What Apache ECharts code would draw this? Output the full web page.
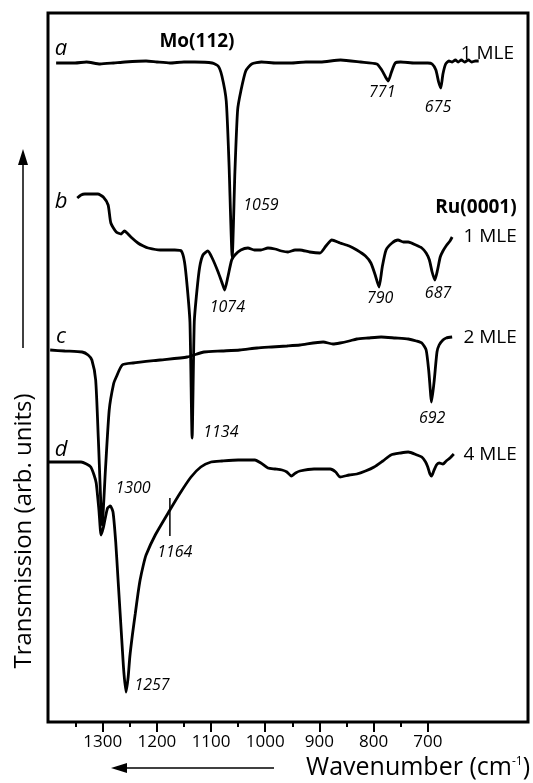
<!DOCTYPE html>
<html>
<head>
<meta charset="utf-8">
<script src="https://cdn.jsdelivr.net/npm/echarts@6/dist/echarts.min.js"></script>
<style>
  html, body { margin: 0; padding: 0; background: #fff; }
  #chart { width: 533px; height: 783px; }
</style>
</head>
<body>
<div id="chart"></div>
<script>
// wavenumber (cm-1), transmission (arb. units)
var curveA = [
  [1386, 659], [1351, 659], [1330, 660], [1305, 658], [1280, 659], [1259, 660], [1220, 661],
  [1200, 660], [1176, 659], [1150, 660], [1130, 660], [1098, 659], [1087, 656], [1080, 646],
  [1072, 621], [1067, 560], [1061, 465], [1056, 550], [1051, 612], [1045, 631],
  [1036, 651], [1025, 658], [1007, 660], [980, 659], [953, 659], [925, 660], [898, 660],
  [861, 662], [824, 660], [794, 658], [785, 652], [778, 645], [773, 641], [767, 650],
  [760, 659], [750, 660], [724, 659], [700, 659], [692, 658], [685, 652], [680, 640],
  [676, 634], [672, 648], [667, 658], [661, 661], [655, 660], [649, 662], [644, 660],
  [638, 662], [632, 660], [625, 662], [619, 660], [612, 661], [606, 661]
];
var curveB = [
  [1347, 524], [1340, 527], [1333, 528], [1309, 528], [1299, 525], [1290, 517], [1285, 499],
  [1275, 490], [1266, 488], [1260, 491], [1255, 489], [1248, 485], [1235, 479], [1225, 476],
  [1216, 474], [1194, 472], [1167, 472], [1155, 471], [1149, 460], [1144, 435], [1139, 400],
  [1135, 284], [1131, 400], [1126, 432], [1121, 455], [1115, 467], [1106, 471], [1098, 464],
  [1087, 450], [1079, 438], [1075, 432], [1069, 445], [1062, 462], [1056, 467], [1045, 472],
  [1032, 474], [1020, 472], [1008, 472], [995, 474], [982, 473], [970, 471], [958, 470],
  [945, 472], [936, 472], [918, 470], [899, 469], [888, 476], [877, 482], [862, 479],
  [845, 476], [831, 472], [815, 466], [805, 459], [797, 447], [790, 435], [784, 455],
  [777, 472], [766, 479], [755, 482], [745, 480], [736, 480], [722, 477], [711, 474],
  [703, 469], [697, 462], [692, 450], [687, 442], [682, 452], [677, 465], [672, 471],
  [665, 477], [659, 481], [655, 485]
];
var curveC = [
  [1397, 372], [1370, 371], [1338, 370], [1327, 367], [1320, 362], [1313, 342], [1308, 282],
  [1301, 197], [1295, 252], [1288, 312], [1280, 338], [1275, 345], [1264, 357], [1244, 359],
  [1194, 362], [1144, 365], [1113, 370], [1080, 371], [1047, 372], [1015, 374], [988, 375],
  [960, 376], [936, 377], [893, 380], [875, 378], [862, 379], [845, 381], [831, 383],
  [810, 384], [786, 385], [760, 384], [736, 383], [721, 381], [711, 379], [703, 372],
  [698, 350], [693, 320], [688, 342], [683, 370], [679, 377], [672, 382], [666, 384], [655, 385]
];
var curveD = [
  [1401, 260], [1370, 260], [1340, 260], [1330, 258], [1322, 255], [1316, 247], [1312, 239],
  [1307, 212], [1303, 187], [1299, 194], [1296, 202], [1291, 214], [1286, 216], [1281, 210],
  [1276, 180], [1272, 145], [1268, 110], [1264, 75], [1261, 50], [1257, 30], [1253, 45],
  [1250, 65], [1245, 88], [1240, 108], [1235, 128], [1231, 142], [1225, 157], [1220, 167],
  [1203, 187], [1176, 212], [1157, 229], [1137, 245], [1119, 255], [1100, 260], [1080, 261],
  [1050, 262], [1019, 262], [1008, 259], [995, 254], [982, 253], [969, 252], [960, 250],
  [952, 246], [944, 249], [936, 251], [910, 253], [880, 253], [870, 250], [862, 245],
  [845, 247], [831, 248], [815, 251], [799, 255], [783, 261], [768, 267], [750, 269],
  [736, 270], [720, 267], [711, 265], [704, 260], [700, 255], [696, 248], [693, 246],
  [689, 251], [684, 257], [679, 259], [672, 258], [666, 261], [659, 264], [652, 268]
];
var marker1164 = [[1176, 224], [1176, 186]];

// annotation texts placed at [wavenumber, transmission, text]
var peakLabels = [
  [784, 630, '771'], [681, 615, '675'], [1008, 517, '1059'], [1070, 415, '1074'],
  [788, 424, '790'], [681, 429, '687'], [692, 304, '692'], [1082, 290, '1134'],
  [1244, 234, '1300'], [1167, 170, '1164'], [1209, 37, '1257']
];
var curveLetters = [[1377, 673, 'a'], [1377, 520, 'b'], [1377, 385, 'c'], [1377, 272, 'd']];
var coverageLabels = [[590, 668, '1 MLE'], [585, 485, '1 MLE'], [585, 384, '2 MLE'], [585, 267, '4 MLE']];
var surfaceLabels = [[1126, 680, 'Mo(112)'], [611, 514, 'Ru(0001)']];

var majorTicks = [700, 800, 900, 1000, 1100, 1200, 1300];
var minorTicks = [750, 850, 950, 1050, 1150, 1250, 1350];

var FONT = 'Open Sans';

function curve(data) {
  return {
    type: 'line', data: data, showSymbol: false, smooth: 0.2,
    lineStyle: { color: '#000', width: 2.8 }, silent: true, z: 3
  };
}

function textSeries(data, size, style, weight) {
  return {
    type: 'scatter', symbolSize: 1, silent: true, z: 5,
    itemStyle: { color: 'rgba(0,0,0,0)', opacity: 1 },
    data: data,
    label: {
      show: true, position: 'inside', color: '#000',
      fontFamily: FONT, fontSize: size, fontStyle: style, fontWeight: weight,
      align: 'center', verticalAlign: 'middle',
      formatter: function (p) { return p.data[2]; }
    }
  };
}

var chart = echarts.init(document.getElementById('chart'));
chart.setOption({
  animation: false,
  backgroundColor: '#fff',
  grid: { left: 48, right: 5, top: 13, bottom: 61, show: true, borderColor: '#000', borderWidth: 3 },
  xAxis: [{
    type: 'value', inverse: true, min: 515, max: 1401,
    axisLine: { show: false },
    splitLine: { show: false },
    axisTick: { show: true, customValues: majorTicks, length: 10, lineStyle: { color: '#000', width: 2 } },
    axisLabel: {
      customValues: majorTicks, color: '#000', fontFamily: FONT, fontSize: 17, margin: 12,
      formatter: function (v) { return String(v); }
    }
  }, {
    type: 'value', inverse: true, min: 515, max: 1401, position: 'bottom',
    axisLine: { show: false },
    splitLine: { show: false },
    axisTick: { show: true, customValues: minorTicks, length: 5, lineStyle: { color: '#000', width: 2 } },
    axisLabel: { show: false }
  }],
  yAxis: { type: 'value', min: 0, max: 709, show: false },
  series: [
    curve(curveA), curve(curveB), curve(curveC), curve(curveD),
    { type: 'line', data: marker1164, showSymbol: false, lineStyle: { color: '#000', width: 1.5 }, z: 4 },
    textSeries(peakLabels, 16, 'italic', 'normal'),
    textSeries(curveLetters, 22, 'italic', 'normal'),
    textSeries(coverageLabels, 19, 'normal', 'normal'),
    textSeries(surfaceLabels, 19, 'normal', 'bold')
  ],
  graphic: [
    { type: 'line', shape: { x1: 23, y1: 348, x2: 23, y2: 162 }, style: { stroke: '#000', lineWidth: 1.5 } },
    { type: 'polygon', shape: { points: [[23, 149], [18, 165], [28, 165]] }, style: { fill: '#000' } },
    {
      type: 'text', x: 24, y: 531, rotation: Math.PI / 2,
      style: { text: 'Transmission (arb. units)', fill: '#000', font: '24px "Open Sans"', textAlign: 'center', textVerticalAlign: 'middle' }
    },
    { type: 'line', shape: { x1: 274, y1: 768, x2: 124, y2: 768 }, style: { stroke: '#000', lineWidth: 1.5 } },
    { type: 'polygon', shape: { points: [[111, 768], [127, 763], [127, 773]] }, style: { fill: '#000' } },
    {
      type: 'text', x: 530, y: 768,
      style: {
        text: '{n|Wavenumber (cm}{s|-1}{n|)}', textAlign: 'right', textVerticalAlign: 'middle',
        rich: {
          n: { fontFamily: FONT, fontSize: 25, fill: '#000', color: '#000' },
          s: { fontFamily: FONT, fontSize: 12, fill: '#000', color: '#000', verticalAlign: 'top' }
        }
      }
    }
  ]
});
</script>
</body>
</html>
